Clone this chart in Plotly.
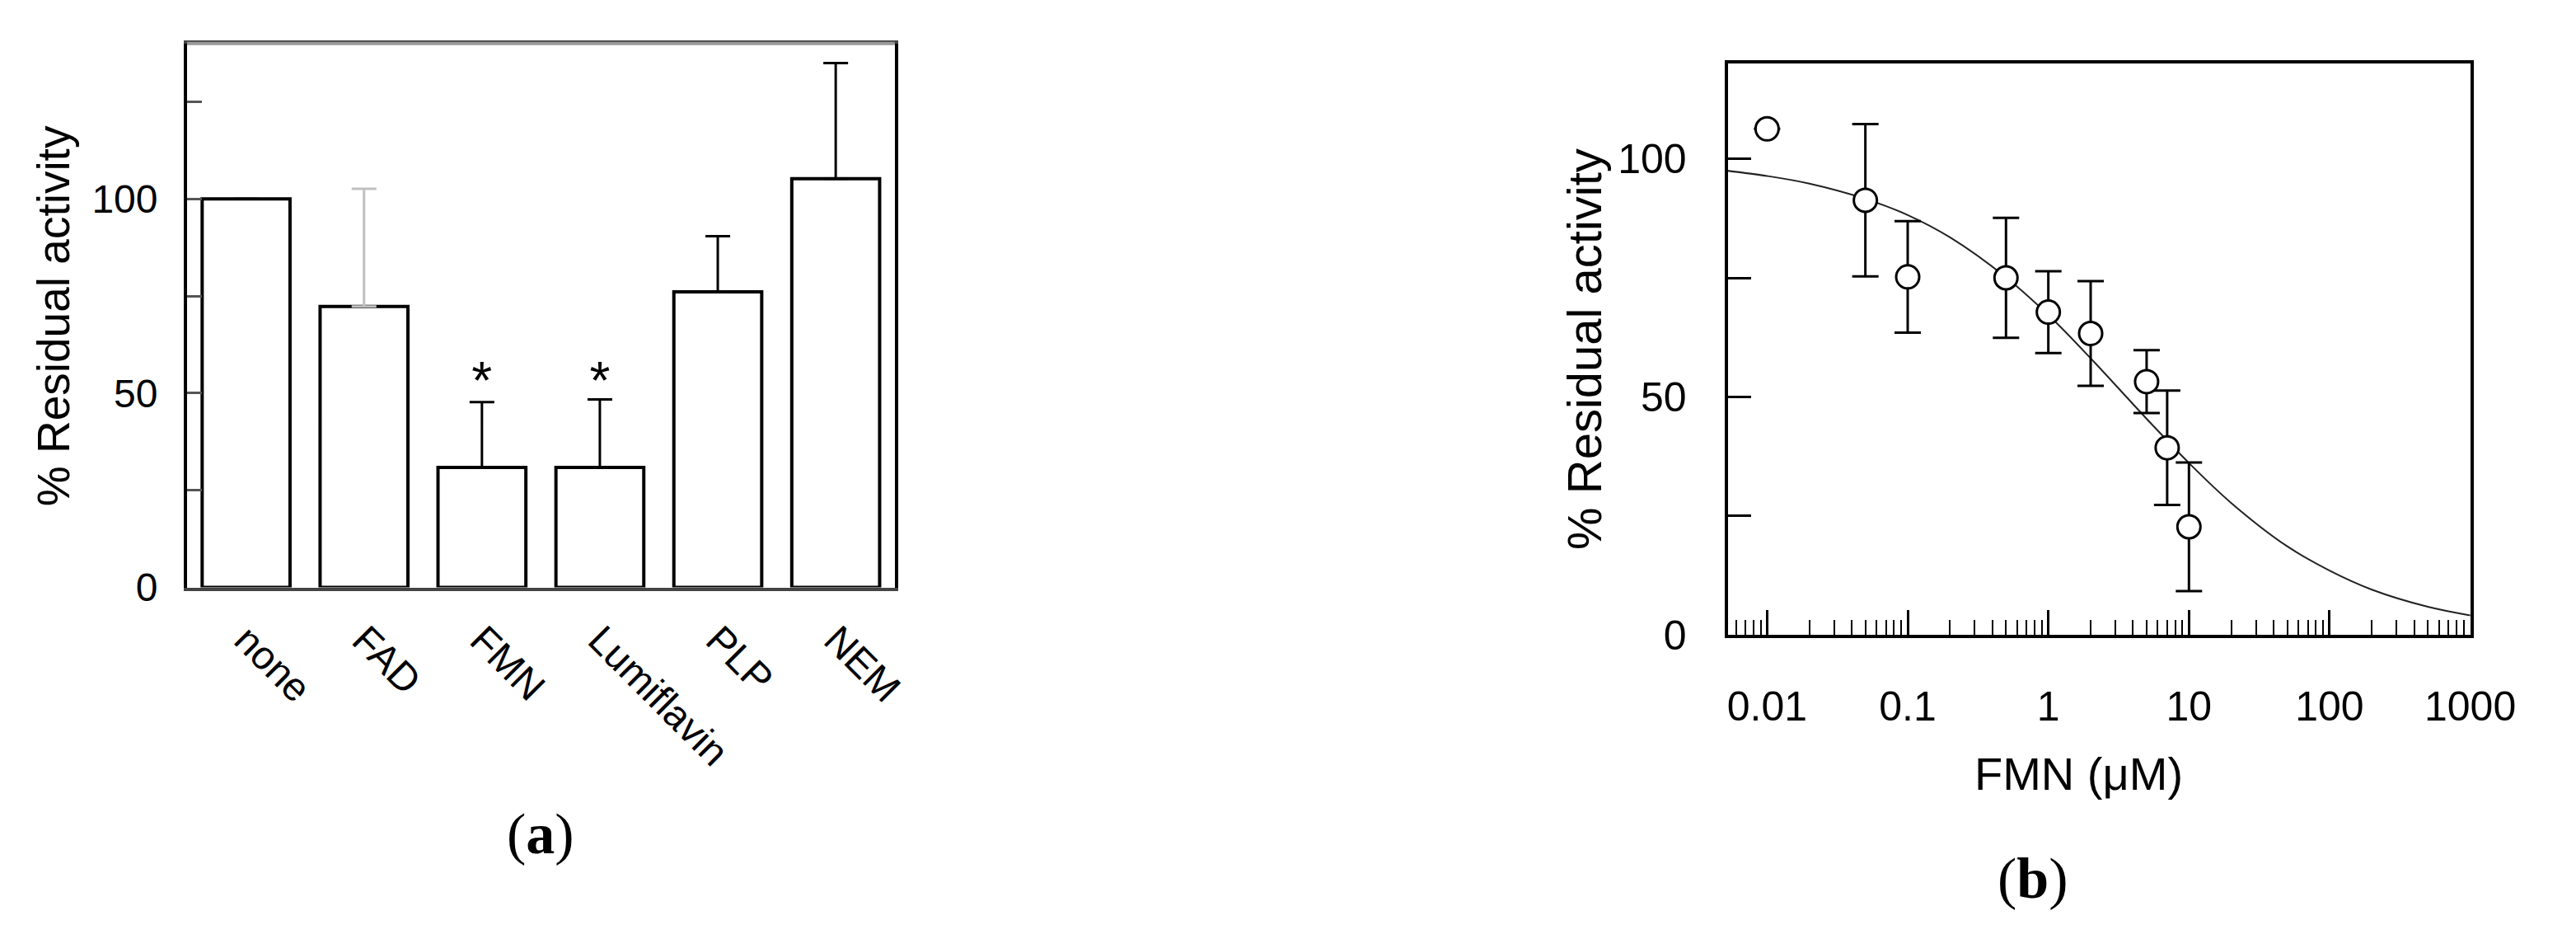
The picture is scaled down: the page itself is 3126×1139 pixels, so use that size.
import plotly.graph_objects as go

# panel (a): residual activity with different compounds
compounds = ['none', 'FAD', 'FMN', 'Lumiflavin', 'PLP', 'NEM']
activity = [100, 72.3, 30.9, 30.9, 76.1, 105.2]
activity_sd = [0, None, 16.8, 17.5, 14.3, 29.8]
fad_sd = [30.3]
star_compounds = ['FMN', 'Lumiflavin']
star_y = [52, 52]

# panel (b): FMN titration
fmn_conc = [0.01, 0.05, 0.1, 0.5, 1, 2, 5, 7, 10]
fmn_act = [106.3, 91.3, 75.2, 75.0, 67.8, 63.3, 53.2, 39.3, 22.7]
fmn_err = [None, 16.0, 11.7, 12.6, 8.6, 11.0, 6.6, 12.0, 13.5]

# fitted curve
fit_conc = [0.0052, 0.01, 0.02, 0.05, 0.1, 0.2, 0.5, 1, 2, 5, 10, 20, 50, 100, 200, 500, 1000]
fit_act = [97.5, 96.4, 94.8, 91.6, 88.2, 83.5, 75.1, 67.2, 58.1, 45.4, 36.1, 27.7, 18.6, 13.5, 9.5, 5.9, 4.1]

x_ticks_b = [0.01, 0.1, 1, 10, 100, 1000]
x_ticktext_b = ['0.01', '0.1', '1', '10', '100', '1000']
minor_b = [m * 10 ** e for e in range(-3, 3) for m in range(2, 10)]

W, H = 3126, 1139
sans = 'Arial, Liberation Sans, sans-serif'
serif = 'Liberation Serif, Times New Roman, serif'

fig = go.Figure()

fig.add_trace(go.Bar(
    x=compounds, y=activity, xaxis='x', yaxis='y',
    marker=dict(color='white', line=dict(color='black', width=4)),
    width=0.745,
    error_y=dict(type='data', symmetric=False, array=activity_sd,
                 arrayminus=[0] * len(activity), color='black', thickness=3, width=15),
))
fig.add_trace(go.Scatter(
    x=['FAD'], y=[activity[1]], xaxis='x', yaxis='y', mode='markers',
    marker=dict(opacity=0),
    error_y=dict(type='data', symmetric=False, array=fad_sd, arrayminus=[0],
                 color='#c0c0c0', thickness=3, width=15),
))
fig.add_trace(go.Scatter(
    x=star_compounds, y=star_y, xaxis='x', yaxis='y', mode='text', text=['*', '*'],
    textfont=dict(family=sans, size=64, color='black'),
))

fig.add_trace(go.Scatter(
    x=fit_conc, y=fit_act, xaxis='x2', yaxis='y2', mode='lines',
    line=dict(color='#222222', width=2, shape='spline'),
))
fig.add_trace(go.Scatter(
    x=fmn_conc, y=fmn_act, xaxis='x2', yaxis='y2', mode='markers',
    marker=dict(symbol='circle', size=28, color='white', line=dict(color='black', width=3)),
    error_y=dict(type='data', array=fmn_err, color='black', thickness=3, width=16),
))

fig.update_layout(
    width=W, height=H, margin=dict(l=0, r=0, t=0, b=0),
    paper_bgcolor='white', plot_bgcolor='white', showlegend=False,
    barmode='overlay',
    xaxis=dict(domain=[223 / W, 1097 / W], anchor='y', type='category', range=[-0.5, 5.5],
               tickangle=45, tickfont=dict(family=sans, size=48, color='black'),
               ticklabelstandoff=12,
               ticks='', showline=True, linecolor='#444444', linewidth=4, mirror=True,
               showgrid=False, zeroline=False),
    yaxis=dict(domain=[1 - 723 / H, 1 - 46 / H], anchor='x', range=[0, 140],
               tickvals=[0, 25, 50, 75, 100, 125], ticktext=['0', '', '50', '', '100', ''],
               ticks='inside', ticklen=18, tickwidth=3, tickcolor='#555555',
               ticklabelstandoff=22, tickfont=dict(family=sans, size=48, color='black'),
               showline=True, linecolor='black', linewidth=4, mirror=True,
               showgrid=False, zeroline=False),
    xaxis2=dict(domain=[2126 / W, 3044 / W], anchor='y2', type='log', range=[-2.28, 3.005],
                tickvals=x_ticks_b, ticktext=x_ticktext_b,
                ticks='inside', ticklen=30, tickwidth=3, tickcolor='black',
                minor=dict(tickvals=minor_b, ticks='inside', ticklen=18, tickwidth=2,
                           tickcolor='black'),
                ticklabelstandoff=40, tickfont=dict(family=sans, size=50, color='black'),
                showline=True, linecolor='black', linewidth=4, mirror=True,
                showgrid=False, zeroline=False),
    yaxis2=dict(domain=[1 - 782 / H, 1 - 71 / H], anchor='x2', range=[0, 120],
                tickvals=[0, 25, 50, 75, 100], ticktext=['0', '', '50', '', '100'],
                ticks='inside', ticklen=28, tickwidth=3, tickcolor='black',
                ticklabelstandoff=36, tickfont=dict(family=sans, size=50, color='black'),
                showline=True, linecolor='black', linewidth=4, mirror=True,
                showgrid=False, zeroline=False),
)

# grey top edge of panel (a)
fig.add_shape(type='line', xref='x domain', yref='y domain', x0=0, x1=1, y0=1, y1=1,
              line=dict(color='#999999', width=4))

labels = [
    ('% Residual activity', 58, 385, -90, sans, 55),
    ('% Residual activity', 1948, 426, -90, sans, 58),
    ('FMN (\u03bcM)', 2560, 955, 0, sans, 56),
    ('(<b>a</b>)', 660, 1030, 0, serif, 70),
    ('(<b>b</b>)', 2503, 1085, 0, serif, 70),
]
for text, px, py, angle, family, size in labels:
    fig.add_annotation(text=text, xref='paper', yref='paper', x=px / W, y=1 - py / H,
                       xanchor='center', yanchor='middle', textangle=angle, showarrow=False,
                       font=dict(family=family, size=size, color='black'))

fig.write_html('out.html')
